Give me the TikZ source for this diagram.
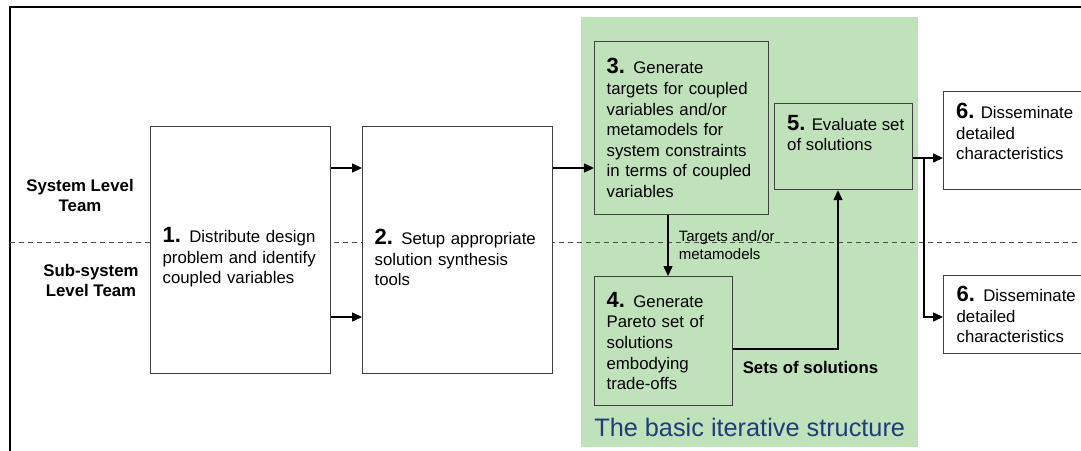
\documentclass[tikz,border=0pt]{standalone}
\usepackage{fontspec}
\setmainfont{Liberation Sans}
\usetikzlibrary{arrows.meta}

\definecolor{iterbg}{RGB}{192,226,186}
\definecolor{iterblue}{RGB}{28,62,122}
\newcommand{\boxnum}[1]{{\fontsize{22}{22}\selectfont\bfseries #1.}}

\begin{document}
\begin{tikzpicture}[
  x=1pt, y=-1pt,
  every node/.style={font=\fontsize{16.8}{20.6}\selectfont},
  stage/.style={rectangle, draw=black!75, line width=1.2pt, fill=white, anchor=north west, align=left, inner xsep=12pt, inner ysep=0pt},
  bandstage/.style={stage, fill=none},
  toptext/.style={anchor=north west, align=left, inner xsep=13pt, inner ysep=12pt},
  team/.style={align=center, font=\fontsize{16.8}{20}\selectfont\bfseries},
  band/.style={rectangle, fill=iterbg, anchor=north west, inner sep=0pt, minimum width=337pt, minimum height=430pt},
  bandtitle/.style={text=iterblue, font=\fontsize{25.3}{28}\selectfont},
  flowlabel/.style={align=left, inner sep=0pt, font=\fontsize{15}{18}\selectfont},
  setslabel/.style={inner sep=0pt, font=\fontsize{16.8}{20}\selectfont\bfseries},
  frame/.style={line width=2pt, black},
  divider/.style={line width=1pt, black!70, dash pattern=on 5pt off 4pt},
  arrow/.style={-{Triangle[length=10pt,width=9pt]}, line width=1.5pt}
]
\useasboundingbox (0,0) rectangle (1081,450);
\clip (0,0) rectangle (1081,450);

% Green band: the iterative part
\node[band] (band) at (581,17) {};
\node[bandtitle, anchor=south] (bandtitle) at ([yshift=7pt]band.south) {The basic iterative structure};

% Outer frame and team divider
\draw[frame] (9.5,460) -- (9.5,7) -- (1090,7);
\draw[divider] (10,242) -- (1090,242);

% Teams
\node[team] (systeam) at (80,195) {System Level\\Team};
\node[team] (subteam) at (91,280) {Sub-system\\Level Team};

% Step 1
\node[stage, text width=156pt, minimum height=247pt] (distribute) at (150,126) {
  \rule{0pt}{30pt}\boxnum{1} Distribute design\\
  problem and identify\\
  coupled variables
};

% Step 2
\node[stage, text width=166pt, minimum height=247pt] (setup) at (362,126) {
  \rule{0pt}{30pt}\boxnum{2} Setup appropriate\\
  solution synthesis\\
  tools
};

% Step 3
\node[bandstage, text width=150pt, minimum height=173pt] (targets) at (594,41) {
  \boxnum{3} Generate\\
  targets for coupled\\
  variables and/or\\
  metamodels for\\
  system constraints\\
  in terms of coupled\\
  variables
};

% Step 4
\node[bandstage, text width=114pt, minimum height=129pt] (pareto) at (594,276) {
  \boxnum{4} Generate\\
  Pareto set of\\
  solutions\\
  embodying\\
  trade-offs
};

% Step 5
\node[bandstage, minimum width=138pt, minimum height=86pt,
  label={[toptext]north west:{\boxnum{5} Evaluate set\\of solutions}}] (evaluate) at (774,103) {};

% Step 6, both teams
\node[stage, minimum width=150pt, minimum height=98pt,
  label={[toptext]north west:{\boxnum{6} Disseminate\\detailed\\characteristics}}] (dissup) at (943,91) {};
\node[stage, inner xsep=13pt, text width=124pt, minimum height=78pt] (disslow) at (943,275) {
  \boxnum{6} Disseminate\\
  detailed\\
  characteristics
};

% Arrows
\draw[arrow] ([yshift=-42pt]distribute.north east) -- ([yshift=-42pt]setup.north west);
\draw[arrow] ([yshift=-191pt]distribute.north east) -- ([yshift=-191pt]setup.north west);
\draw[arrow] ([yshift=-42pt]setup.north east) -- ([yshift=-127pt]targets.north west);
\draw[arrow] ([xshift=74pt]targets.south west) -- node[right, flowlabel, xshift=10pt] (targetslbl) {Targets and/or\\metamodels} ([xshift=74pt]pareto.north west);
\draw[arrow] ([yshift=-73pt]pareto.north east) -| node[pos=0.042, anchor=north west, setslabel, yshift=-12pt] (setslbl) {Sets of solutions} ([xshift=64pt]evaluate.south west);
\draw[arrow] ([yshift=-55pt]evaluate.north east) -- ([yshift=-67pt]dissup.north west);
\draw[arrow] ([xshift=11pt,yshift=-55pt]evaluate.north east) |- ([yshift=-42pt]disslow.north west);

\end{tikzpicture}
\end{document}
